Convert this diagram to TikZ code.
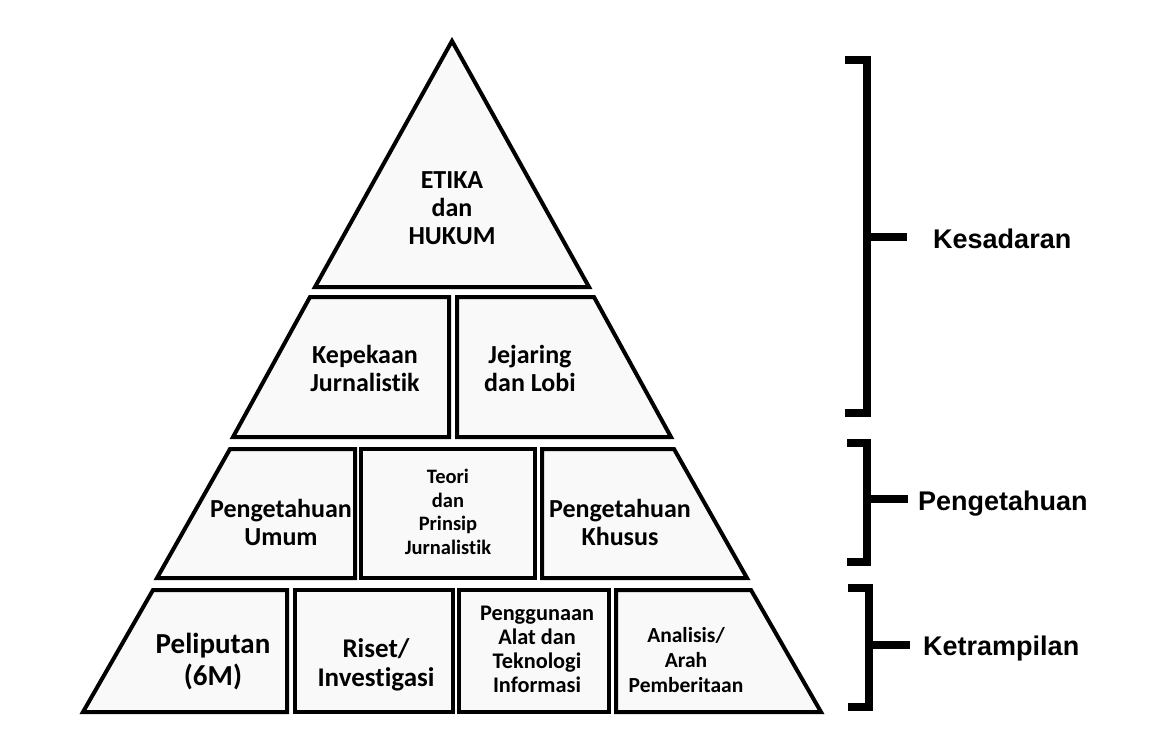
\documentclass[tikz,border=0pt]{standalone}
\usepackage{fontspec}
\newfontfamily\boxfont{Carlito}[Ligatures=NoCommon]
\newfontfamily\labelfont{Liberation Sans}
\tikzset{
  tierbox/.style={draw=black, line width=4pt, fill=gray!5, line join=miter},
  boxtext/.style={align=center, inner sep=0pt, font=\boxfont\bfseries\fontsize{26}{28}\selectfont},
  bracketline/.style={line width=7.5pt, line join=miter},
  sidelabel/.style={anchor=base west, inner sep=0pt, font=\labelfont\bfseries\fontsize{27}{32}\selectfont}
}

\begin{document}
\begin{tikzpicture}[x=1pt, y=-1pt]
    \fill[white] (0,0) rectangle (1153,740);
    \useasboundingbox (0,0) rectangle (1153,740);

    % Top: triangle
    \draw[tierbox] (452,41) -- (589,287) -- (315,287) -- cycle;
    \node[boxtext] (etika) at (452,208) {ETIKA\\dan\\HUKUM};

    % Second tier
    \draw[tierbox] (310,297) -- (449,297) -- (449,437) -- (233,437) -- cycle;
    \draw[tierbox] (457,297) -- (594,297) -- (671,437) -- (457,437) -- cycle;
    \node[boxtext] (kepekaan) at (365,368) {Kepekaan\\Jurnalistik};
    \node[boxtext] (jejaring) at (530,368) {Jejaring\\dan Lobi};

    % Third tier
    \draw[tierbox] (230,449) -- (355,449) -- (355,578) -- (157,578) -- cycle;
    \draw[tierbox] (361,449) -- (535,449) -- (535,578) -- (361,578) -- cycle;
    \draw[tierbox] (542,449) -- (674,449) -- (747,578) -- (542,578) -- cycle;
    \node[boxtext] (umum) at (281,522) {Pengetahuan\\Umum};
    \node[boxtext, font=\boxfont\bfseries\fontsize{20.5}{23.5}\selectfont] (teori) at (448,512) {Teori\\dan\\Prinsip\\Jurnalistik};
    \node[boxtext] (khusus) at (620,522) {Pengetahuan\\Khusus};

    % Base tier
    \draw[tierbox] (153,590) -- (287,590) -- (287,712) -- (83,712) -- cycle;
    \draw[tierbox] (295,590) -- (453,590) -- (453,712) -- (295,712) -- cycle;
    \draw[tierbox] (459,590) -- (609,590) -- (609,712) -- (459,712) -- cycle;
    \draw[tierbox] (616,590) -- (751,590) -- (821,712) -- (616,712) -- cycle;
    \node[boxtext, font=\boxfont\bfseries\fontsize{29}{32}\selectfont] (liputan) at (213,662) {Peliputan\\(6M)};
    \node[boxtext, font=\boxfont\bfseries\fontsize{27}{29}\selectfont] (riset) at (376,665) {Riset/\\Investigasi};
    \node[boxtext, font=\boxfont\bfseries\fontsize{22.3}{24}\selectfont] (teknologi) at (537,649) {Penggunaan\\Alat dan\\Teknologi\\Informasi};
    \node[boxtext, font=\boxfont\bfseries\fontsize{21.5}{25}\selectfont] (analisis) at (686,660) {Analisis/\\Arah\\Pemberitaan};

    % Brackets on the right
    \node[sidelabel] (kesadaran) at (933,248) {Kesadaran};
    \node[sidelabel] (pengetahuan) at (918,510) {Pengetahuan};
    \node[sidelabel] (ketrampilan) at (923,655) {Ketrampilan};

    \draw[bracketline] (845,60) -- (867,60) -- (867,413) -- (845,413);
    \coordinate (kesMid) at (867,237);
    \coordinate (kesEnd) at (907,237);
    \draw[bracketline] (kesMid) -- (kesEnd);

    \draw[bracketline] (847,443) -- (867,443) -- (867,562) -- (847,562);
    \coordinate (penMid) at (867,499);
    \coordinate (penEnd) at (908,499);
    \draw[bracketline] (penMid) -- (penEnd);

    \draw[bracketline] (848,588) -- (869,588) -- (869,707) -- (848,707);
    \coordinate (ketMid) at (869,645);
    \coordinate (ketEnd) at (910,645);
    \draw[bracketline] (ketMid) -- (ketEnd);
\end{tikzpicture}
\end{document}
